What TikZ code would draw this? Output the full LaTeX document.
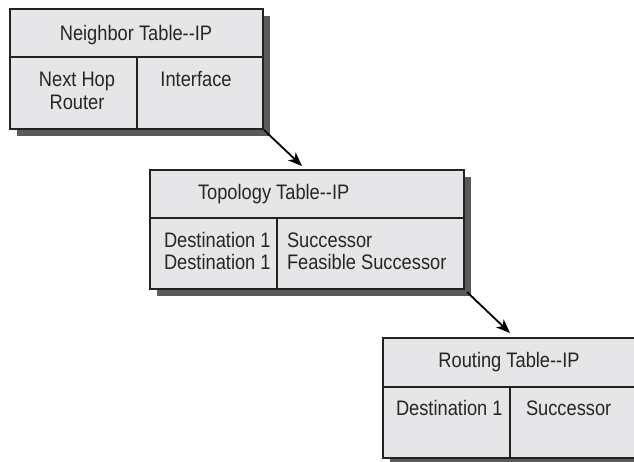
\documentclass[tikz,border=0pt]{standalone}
\usepackage{fontspec}
\setmainfont{Liberation Sans}[FakeStretch=0.87]
\usetikzlibrary{shadows,calc,arrows.meta}
\definecolor{cellfill}{HTML}{E6E6E8}
\definecolor{shadowgray}{HTML}{5A5A5A}
\definecolor{inkline}{HTML}{222222}
\definecolor{inktext}{HTML}{262626}
\begin{document}
\begin{tikzpicture}[x=1pt,y=-1pt,
  tablebox/.style={draw=inkline, line width=1.3pt, fill=cellfill, inner sep=0pt, outer sep=0pt,
    minimum width=253pt, minimum height=120pt, anchor=north west,
    general shadow={shadow xshift=7pt, shadow yshift=-7pt, fill=shadowgray, opacity=1}},
  rule/.style={draw=inkline, line width=1.3pt},
  lbl/.style={inner sep=0pt, outer sep=0pt, text=inktext, font=\fontsize{21}{22}\selectfont},
  flowarrow/.style={draw=black, line width=1.8pt, -{Stealth[length=14pt,width=11pt,inset=4pt]}}
]
\useasboundingbox (0,0) rectangle (634,461);
\clip (0,0) rectangle (634,461);

% Neighbor table
\node[tablebox] (nb) at (10,9) {};
\draw[rule] ($(nb.north west)+(0,48)$) -- ($(nb.north east)+(0,48)$);
\draw[rule] ($(nb.north west)+(127,48)$) -- ($(nb.south west)+(127,0)$);
\node[lbl, anchor=base] (nbt) at (136,40) {Neighbor Table-{}-IP};
\node[lbl, anchor=base] (nbl1) at (77,86) {Next Hop};
\node[lbl, anchor=base] (nbl2) at (77,109) {Router};
\node[lbl, anchor=base] (nbr) at (196,86) {Interface};

% Topology table
\node[tablebox, minimum width=314pt, minimum height=119pt] (tp) at (150,170) {};
\draw[rule] ($(tp.north west)+(0,48)$) -- ($(tp.north east)+(0,48)$);
\draw[rule] ($(tp.north west)+(127,48)$) -- ($(tp.south west)+(127,0)$);
\node[lbl, anchor=base west] (tpt) at (198,199) {Topology Table-{}-IP};
\node[lbl, anchor=base west] (tpl1) at (164,247) {Destination 1};
\node[lbl, anchor=base west] (tpl2) at (164,269) {Destination 1};
\node[lbl, anchor=base west] (tpr1) at (287,247) {Successor};
\node[lbl, anchor=base west] (tpr2) at (287,269) {Feasible Successor};

% Routing table
\node[tablebox] (rt) at (383,338) {};
\draw[rule] ($(rt.north west)+(0,49)$) -- ($(rt.north east)+(0,49)$);
\draw[rule] ($(rt.north west)+(127,49)$) -- ($(rt.south west)+(127,0)$);
\node[lbl, anchor=base] (rtt) at (509,367) {Routing Table-{}-IP};
\node[lbl, anchor=base west] (rtl) at (396,415) {Destination 1};
\node[lbl, anchor=base west] (rtr) at (526,415) {Successor};

% Connectors
\coordinate (tin) at (302,166);
\coordinate (rin) at (510,333);
\draw[flowarrow] ($(nb.south east)+(1,1)$) -- (tin);
\draw[flowarrow] ($(tp.south east)+(3,3)$) -- (rin);
\end{tikzpicture}
\end{document}
